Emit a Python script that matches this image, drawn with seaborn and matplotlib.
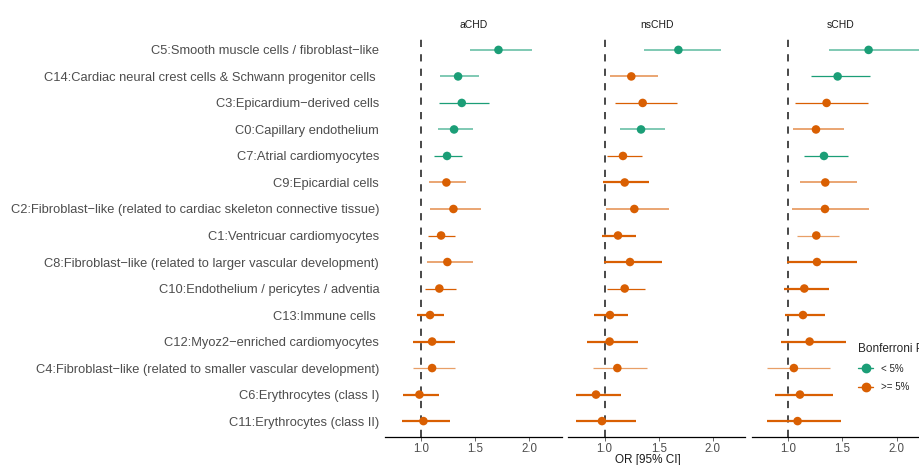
import numpy as np
import pandas as pd
import matplotlib
matplotlib.use("Agg")
import matplotlib.pyplot as plt
import seaborn as sns
from matplotlib.lines import Line2D

# ---------------- data ----------------
clusters = [
    "C5:Smooth muscle cells / fibroblast\u2212like",
    "C14:Cardiac neural crest cells & Schwann progenitor cells ",
    "C3:Epicardium\u2212derived cells",
    "C0:Capillary endothelium",
    "C7:Atrial cardiomyocytes",
    "C9:Epicardial cells",
    "C2:Fibroblast\u2212like (related to cardiac skeleton connective tissue)",
    "C1:Ventricuar cardiomyocytes",
    "C8:Fibroblast\u2212like (related to larger vascular development)",
    "C10:Endothelium / pericytes / adventia",
    "C13:Immune cells ",
    "C12:Myoz2\u2212enriched cardiomyocytes",
    "C4:Fibroblast\u2212like (related to smaller vascular development)",
    "C6:Erythrocytes (class I)",
    "C11:Erythrocytes (class II)",
]
outcomes = ["aCHD", "nsCHD", "sCHD"]
sig_levels = ["< 5%", ">= 5%"]

or_achd = [1.715, 1.342, 1.376, 1.305, 1.240, 1.234, 1.299, 1.185, 1.243, 1.169, 1.083, 1.102, 1.102, 0.985, 1.022]
lo_achd = [1.453, 1.176, 1.166, 1.154, 1.117, 1.074, 1.086, 1.065, 1.052, 1.037, 0.963, 0.926, 0.926, 0.834, 0.821]
hi_achd = [2.023, 1.536, 1.625, 1.481, 1.379, 1.419, 1.555, 1.314, 1.481, 1.323, 1.213, 1.314, 1.317, 1.166, 1.268]
sig_achd = ["< 5%"] * 5 + [">= 5%"] * 10
cls_achd = ["ml", "ml", "t", "ml", "t", "ml", "ml", "t", "ml", "t", "k", "k", "tl", "k", "k"]

or_nschd = [1.681, 1.246, 1.351, 1.336, 1.169, 1.185, 1.274, 1.123, 1.234, 1.185, 1.049, 1.046, 1.117, 0.920, 0.975]
lo_nschd = [1.367, 1.046, 1.096, 1.145, 1.022, 0.988, 1.015, 0.975, 0.994, 1.022, 0.904, 0.840, 0.892, 0.739, 0.739]
hi_nschd = [2.072, 1.490, 1.669, 1.561, 1.342, 1.413, 1.598, 1.293, 1.533, 1.376, 1.219, 1.311, 1.394, 1.154, 1.293]
sig_nschd = ["< 5%", ">= 5%", ">= 5%", "< 5%"] + [">= 5%"] * 11
cls_nschd = ["ml", "ml", "t", "ml", "t", "k", "ml", "k", "k", "t", "k", "k", "tl", "k", "k"]

or_schd = [1.742, 1.456, 1.354, 1.256, 1.330, 1.342, 1.339, 1.259, 1.265, 1.148, 1.136, 1.197, 1.052, 1.108, 1.086]
lo_schd = [1.373, 1.206, 1.059, 1.040, 1.148, 1.105, 1.031, 1.080, 0.985, 0.957, 0.966, 0.929, 0.803, 0.874, 0.800]
hi_schd = [2.226, 1.758, 1.733, 1.518, 1.548, 1.638, 1.742, 1.468, 1.632, 1.373, 1.342, 1.530, 1.382, 1.410, 1.484]
sig_schd = ["< 5%", "< 5%", ">= 5%", ">= 5%", "< 5%"] + [">= 5%"] * 10
cls_schd = ["ml", "t", "t", "ml", "t", "ml", "ml", "tl", "k", "k", "k", "k", "tl", "k", "k"]

x_ticks = [1.0, 1.5, 2.0]
x_tick_labels = ["1.0", "1.5", "2.0"]

frames = []
for name, o, lo, hi, sg, cl in [
    ("aCHD", or_achd, lo_achd, hi_achd, sig_achd, cls_achd),
    ("nsCHD", or_nschd, lo_nschd, hi_nschd, sig_nschd, cls_nschd),
    ("sCHD", or_schd, lo_schd, hi_schd, sig_schd, cls_schd),
]:
    frames.append(pd.DataFrame({"cluster": clusters, "outcome": name, "OR": o,
                                "lo": lo, "hi": hi, "sig": sg, "cls": cl}))
df = pd.concat(frames, ignore_index=True)

# ---------------- style ----------------
sns.set_theme(style="white")
plt.rcParams["font.family"] = ["Liberation Sans", "DejaVu Sans"]
palette = {"< 5%": "#1B9E77", ">= 5%": "#D95F02"}
line_style = {"k": (1.6, 1.0), "t": (0.9, 1.0), "ml": (1.3, 0.6), "tl": (0.9, 0.6)}
grey30 = "#4D4D4D"

W, H = 919, 465
fig = plt.figure(figsize=(W / 100, H / 100), dpi=100)
fig.patch.set_facecolor("white")

lefts = [384.8, 568.4, 752.0]
pw = 177.0
top_px, bot_px = 34.0, 437.0

for i, (outc, lp) in enumerate(zip(outcomes, lefts)):
    ax = fig.add_axes([lp / W, (H - bot_px) / H, pw / W, (bot_px - top_px) / H])
    sub = df[df["outcome"] == outc]
    # register categorical order and draw points
    sns.scatterplot(data=sub, x="OR", y="cluster", hue="sig", palette=palette,
                    hue_order=sig_levels, s=38, edgecolor="none", legend=False,
                    ax=ax, zorder=3)
    for key, (lw, al) in line_style.items():
        part = sub[sub["cls"] == key]
        if len(part):
            ax.hlines(part["cluster"], part["lo"], part["hi"],
                      colors=[palette[s] for s in part["sig"]],
                      linewidth=lw, alpha=al, zorder=2)
    ax.axvline(1.0, color="#3a3a3a", linewidth=1.3, linestyle=(0, (4, 4)), zorder=1)
    ax.set_xlim(0.665, 2.30)
    ax.set_ylim(len(clusters) - 0.4, -0.6)
    ax.set_xticks(x_ticks)
    ax.set_xticklabels(x_tick_labels)
    ax.tick_params(axis="x", length=3, width=0.6, color=grey30, labelsize=8.3,
                   labelcolor=grey30, pad=1.2, bottom=True)
    ax.set_xlabel("")
    ax.set_ylabel("")
    for sp in ["top", "right", "left"]:
        ax.spines[sp].set_visible(False)
    ax.spines["bottom"].set_color("black")
    ax.spines["bottom"].set_linewidth(0.9)
    ax.set_facecolor("none")
    ax.set_title(outc, fontsize=7.5, pad=4.5, color="#1a1a1a")
    if i == 0:
        ax.tick_params(axis="y", length=0, labelsize=9.25, labelcolor=grey30, pad=4)
    else:
        ax.tick_params(axis="y", length=0, labelleft=False)

fig.text(648 / W, 1 - 459.5 / H, "OR [95% CI]", ha="center", va="center",
         fontsize=8.5, color="#1a1a1a")

handles = [Line2D([0], [0], color=palette[s], marker="o", markersize=6,
                  linewidth=1.0, label=s) for s in sig_levels]
leg = fig.legend(handles=handles, title="Bonferroni P", loc="upper left",
                 bbox_to_anchor=(854 / W, 1 - 339 / H), frameon=False,
                 fontsize=7, title_fontsize=8.5, handlelength=1.6,
                 labelspacing=0.9, alignment="left", borderaxespad=0)

fig.savefig("out.png", dpi=100, facecolor="white")
